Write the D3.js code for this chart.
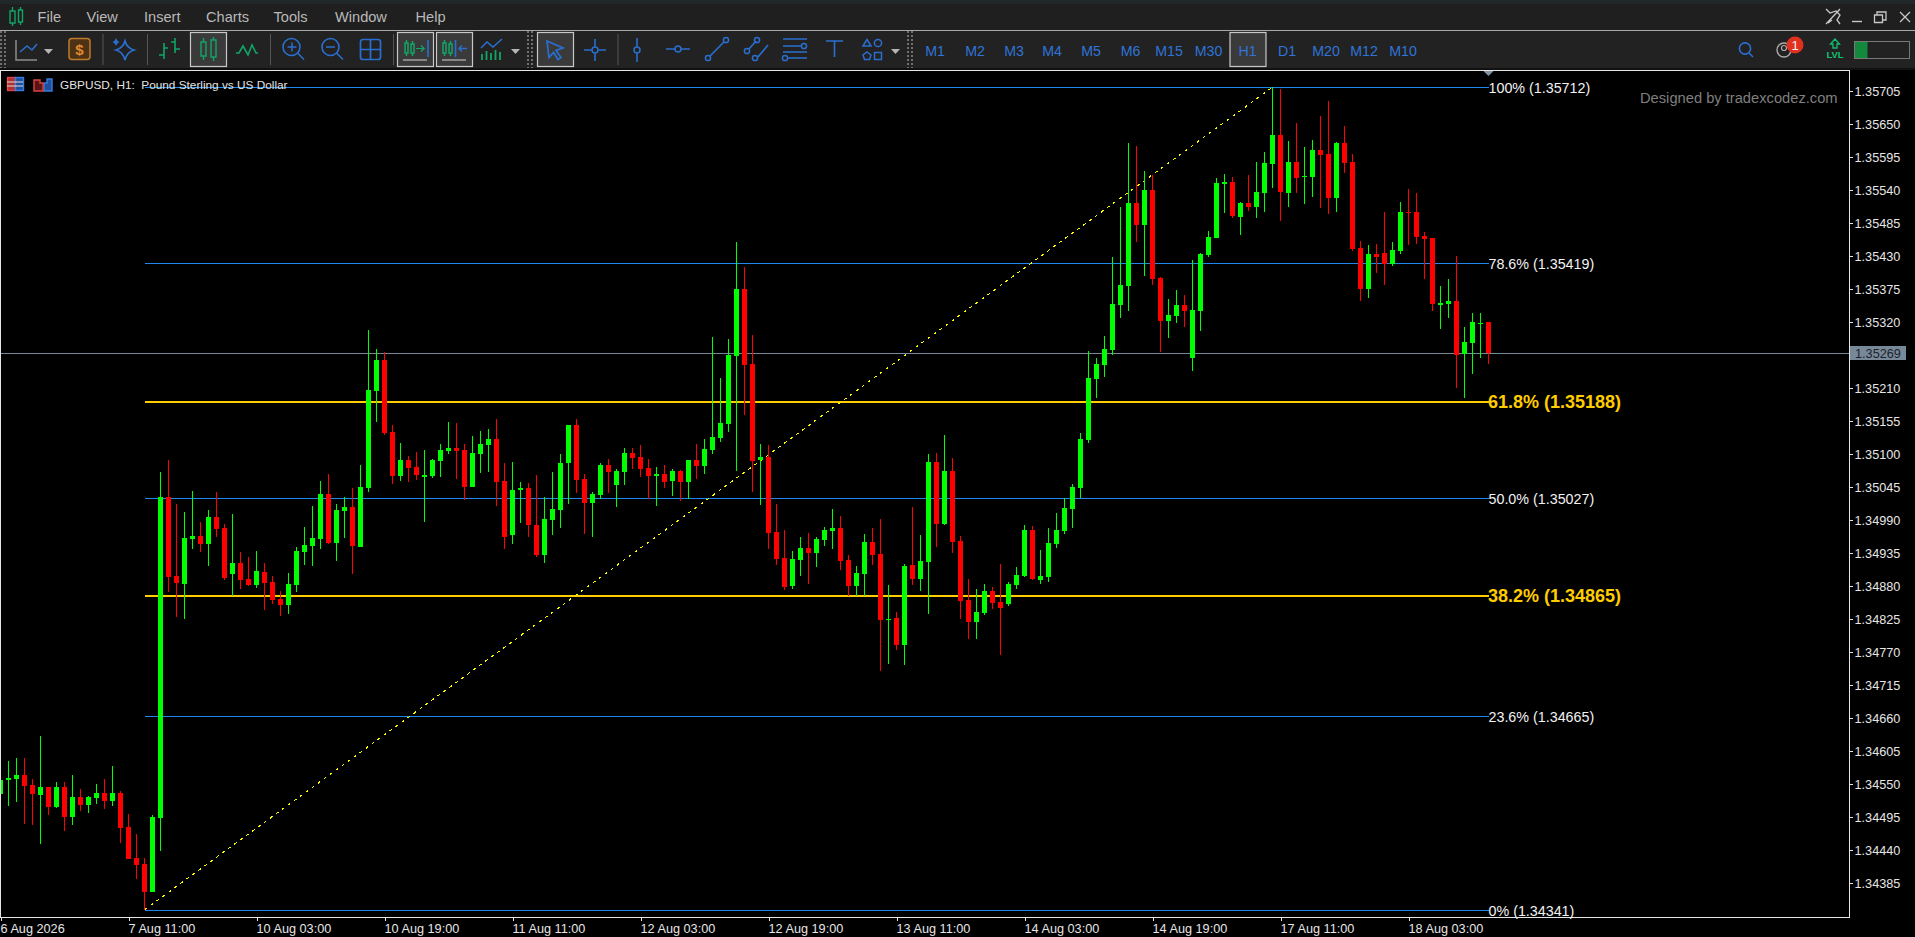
<!DOCTYPE html>
<html><head><meta charset="utf-8">
<script src="https://cdn.jsdelivr.net/npm/d3@7/dist/d3.min.js"></script>
<style>html,body{margin:0;padding:0;background:#000;overflow:hidden}svg{display:block}text{font-family:"Liberation Sans",Arial,sans-serif}</style>
</head><body><div id="c"></div>
<script>
const opens=[1.34534,1.34558,1.34559,1.34566,1.34549,1.34532,1.34546,1.34512,1.34546,1.34496,1.34529,1.34516,1.34527,1.34536,1.34522,1.34536,1.34479,1.34427,1.34417,1.34371,1.34494,1.35029,1.34897,1.34884,1.34959,1.34964,1.34951,1.34996,1.34977,1.34901,1.34919,1.34892,1.34882,1.34904,1.34887,1.34859,1.34849,1.34882,1.34937,1.34947,1.34959,1.35034,1.34952,1.35006,1.35012,1.34946,1.35044,1.35206,1.35257,1.35137,1.35064,1.35091,1.35079,1.35062,1.35064,1.35089,1.35106,1.35111,1.35107,1.35046,1.35101,1.35116,1.35126,1.35056,1.34966,1.35041,1.35044,1.34982,1.34932,1.34991,1.35007,1.35086,1.35149,1.35059,1.35019,1.35032,1.35082,1.35049,1.35071,1.35102,1.35096,1.35077,1.35064,1.35067,1.35056,1.35072,1.35054,1.35091,1.35081,1.35107,1.35127,1.35151,1.35264,1.35376,1.35251,1.35091,1.35095,1.34971,1.34927,1.34881,1.34924,1.34944,1.34936,1.34957,1.34972,1.34977,1.34924,1.34881,1.34901,1.34954,1.34934,1.34824,1.34827,1.34782,1.34916,1.34892,1.34921,1.35087,1.34984,1.35072,1.34956,1.34857,1.34821,1.34836,1.34872,1.34854,1.34851,1.34882,1.34897,1.34974,1.34891,1.34896,1.34951,1.34972,1.35009,1.35044,1.35124,1.35226,1.35249,1.35274,1.35349,1.35381,1.35519,1.35482,1.35541,1.35394,1.35322,1.35331,1.35349,1.35261,1.35339,1.35432,1.35461,1.35551,1.35554,1.35496,1.35519,1.35512,1.35536,1.35584,1.35632,1.35536,1.35587,1.35562,1.35562,1.35607,1.35601,1.35527,1.35619,1.35587,1.35444,1.35376,1.35434,1.35436,1.35417,1.35439,1.35504,1.35504,1.35464,1.35461,1.35349,1.35351,1.35356,1.35267,1.35286,1.35317,1.35321];
const highs=[1.34570,1.34589,1.34594,1.34594,1.34559,1.34631,1.34546,1.34554,1.34554,1.34566,1.34542,1.34531,1.34551,1.34559,1.34581,1.34539,1.34501,1.34467,1.34427,1.34499,1.35071,1.35091,1.35017,1.35004,1.35039,1.34987,1.35007,1.35037,1.34984,1.35001,1.34937,1.34929,1.34939,1.34919,1.34897,1.34872,1.34902,1.34946,1.34979,1.35014,1.35056,1.35067,1.35017,1.35029,1.35044,1.35082,1.35307,1.35276,1.35271,1.35149,1.35119,1.35097,1.35104,1.35107,1.35092,1.35117,1.35154,1.35152,1.35117,1.35131,1.35139,1.35142,1.35159,1.35086,1.35087,1.35054,1.35052,1.35066,1.35029,1.35071,1.35101,1.35149,1.35159,1.35067,1.35037,1.35086,1.35092,1.35076,1.35111,1.35111,1.35116,1.35092,1.35079,1.35082,1.35076,1.35074,1.35091,1.35117,1.35126,1.35296,1.35227,1.35292,1.35454,1.35412,1.35299,1.35117,1.35116,1.35017,1.34974,1.34939,1.34962,1.34969,1.34962,1.34979,1.35009,1.34997,1.34932,1.34914,1.34967,1.34977,1.34992,1.34882,1.34837,1.34917,1.35012,1.34966,1.35101,1.35102,1.35132,1.35094,1.34964,1.34892,1.34876,1.34884,1.34879,1.34917,1.34887,1.34912,1.34982,1.34981,1.34941,1.34977,1.35002,1.35027,1.35051,1.35136,1.35272,1.35261,1.35297,1.35429,1.35512,1.35619,1.35614,1.35572,1.35566,1.35396,1.35359,1.35374,1.35366,1.35424,1.35436,1.35472,1.35561,1.35567,1.35562,1.35521,1.35566,1.35587,1.35604,1.35712,1.35709,1.35622,1.35652,1.35612,1.35624,1.35664,1.35689,1.35621,1.35647,1.35601,1.35456,1.35449,1.35451,1.35504,1.35454,1.35521,1.35542,1.35536,1.35471,1.35461,1.35381,1.35392,1.35431,1.35312,1.35336,1.35336,1.35321];
const lows=[1.34520,1.34514,1.34521,1.34484,1.34482,1.34451,1.34499,1.34511,1.34472,1.34482,1.34506,1.34502,1.34517,1.34509,1.34514,1.34452,1.34426,1.34392,1.34341,1.34371,1.34439,1.34871,1.34829,1.34826,1.34942,1.34937,1.34914,1.34962,1.34891,1.34864,1.34876,1.34881,1.34877,1.34841,1.34851,1.34831,1.34834,1.34871,1.34916,1.34914,1.34942,1.34950,1.34922,1.34960,1.34901,1.34946,1.35037,1.35154,1.35132,1.35051,1.35056,1.35054,1.35057,1.34987,1.35061,1.35062,1.35101,1.35059,1.35024,1.35046,1.35069,1.35071,1.35014,1.34942,1.34951,1.34986,1.34962,1.34929,1.34919,1.34966,1.34977,1.35017,1.35036,1.34967,1.34962,1.35026,1.35036,1.35012,1.35049,1.35076,1.35062,1.35026,1.35014,1.35044,1.35031,1.35022,1.35026,1.35059,1.35067,1.35101,1.35121,1.35137,1.35072,1.35166,1.35037,1.35016,1.34942,1.34916,1.34874,1.34876,1.34897,1.34884,1.34912,1.34947,1.34942,1.34907,1.34864,1.34864,1.34864,1.34916,1.34739,1.34751,1.34774,1.34749,1.34882,1.34872,1.34834,1.34946,1.34982,1.34936,1.34826,1.34792,1.34792,1.34832,1.34842,1.34766,1.34847,1.34876,1.34896,1.34891,1.34884,1.34887,1.34944,1.34967,1.34977,1.35027,1.35119,1.35194,1.35229,1.35266,1.35327,1.35339,1.35454,1.35397,1.35382,1.35271,1.35294,1.35319,1.35312,1.35239,1.35306,1.35429,1.35461,1.35502,1.35494,1.35466,1.35506,1.35494,1.35504,1.35544,1.35489,1.35512,1.35536,1.35517,1.35529,1.35511,1.35501,1.35504,1.35569,1.35439,1.35356,1.35361,1.35402,1.35382,1.35414,1.35434,1.35449,1.35451,1.35392,1.35339,1.35309,1.35327,1.35211,1.35194,1.35234,1.35261,1.35251];
const closes=[1.34558,1.34561,1.34566,1.34547,1.34534,1.34546,1.34512,1.34546,1.34496,1.34529,1.34516,1.34529,1.34536,1.34522,1.34536,1.34477,1.34426,1.34416,1.34371,1.34496,1.35029,1.34896,1.34886,1.34961,1.34964,1.34951,1.34996,1.34976,1.34894,1.34919,1.34891,1.34882,1.34906,1.34886,1.34857,1.34849,1.34884,1.34939,1.34949,1.34961,1.35034,1.34952,1.35007,1.35012,1.34947,1.35046,1.35207,1.35257,1.35136,1.35064,1.35091,1.35077,1.35066,1.35066,1.35091,1.35107,1.35111,1.35106,1.35046,1.35102,1.35117,1.35126,1.35054,1.34962,1.35041,1.35044,1.34982,1.34932,1.34992,1.35009,1.35086,1.35149,1.35057,1.35019,1.35034,1.35082,1.35071,1.35072,1.35102,1.35094,1.35076,1.35064,1.35067,1.35054,1.35072,1.35054,1.35091,1.35081,1.35109,1.35129,1.35152,1.35266,1.35376,1.35249,1.35089,1.35095,1.34969,1.34926,1.34879,1.34926,1.34944,1.34936,1.34959,1.34974,1.34977,1.34922,1.34881,1.34902,1.34954,1.34932,1.34824,1.34826,1.34782,1.34914,1.34892,1.34922,1.35087,1.34984,1.35072,1.34954,1.34856,1.34821,1.34837,1.34872,1.34852,1.34844,1.34884,1.34899,1.34974,1.34892,1.34897,1.34952,1.34974,1.35011,1.35046,1.35126,1.35227,1.35251,1.35276,1.35351,1.35382,1.35519,1.35482,1.35541,1.35392,1.35322,1.35332,1.35349,1.35339,1.35341,1.35434,1.35462,1.35552,1.35554,1.35497,1.35519,1.35512,1.35537,1.35586,1.35632,1.35537,1.35587,1.35561,1.35564,1.35607,1.35599,1.35527,1.35619,1.35586,1.35442,1.35376,1.35434,1.35429,1.35417,1.35441,1.35504,1.35502,1.35462,1.35459,1.35351,1.35352,1.35356,1.35266,1.35287,1.35321,1.35319,1.35269];
const fiboLabels=["100%","78.6%","61.8%","50.0%","38.2%","23.6%","0%"];
const fiboPrices=[1.35712,1.35419,1.35188,1.35027,1.34865,1.34665,1.34341];
const fiboEmphasis=[false,false,true,false,true,false,false];
const priceTicks=[1.35705,1.35650,1.35595,1.35540,1.35485,1.35430,1.35375,1.35320,1.35265,1.35210,1.35155,1.35100,1.35045,1.34990,1.34935,1.34880,1.34825,1.34770,1.34715,1.34660,1.34605,1.34550,1.34495,1.34440,1.34385];
const timeTickIndex=[0,16,32,48,64,80,96,112,128,144,160,176];
const timeTickLabels=["6 Aug 2026","7 Aug 11:00","10 Aug 03:00","10 Aug 19:00","11 Aug 11:00","12 Aug 03:00","12 Aug 19:00","13 Aug 11:00","14 Aug 03:00","14 Aug 19:00","17 Aug 11:00","18 Aug 03:00"];
const currentPrice=1.35269, swingLowIndex=18, swingHighIndex=159, lastIndex=186;
const menuItems=[["File",37.5],["View",86.5],["Insert",144],["Charts",206],["Tools",273.5],["Window",335],["Help",415.5]];
const timeframes=[["M1",935],["M2",975],["M3",1014],["M4",1052],["M5",1091],["M6",1130.5],["M15",1169],["M30",1208.5],["H1",1247.5],["D1",1287],["M20",1326],["M12",1364],["M10",1403]];

const W=1915,H=937,L=1,T=71,R=1849,B=917;
const svg=d3.select("#c").append("svg").attr("width",W).attr("height",H);
const x=d3.scaleLinear().domain([0,186]).range([0.5,1488.5]);
const y=d3.scaleLinear().domain([1.35705,1.34385]).range([91.4,883.4]);
const BLUE="#2a6fd0",GRN="#12a566",GREY="#8c8c8c";

/* ---------- plot ---------- */
svg.append("defs").append("clipPath").attr("id","pc").append("rect").attr("x",0).attr("y",T).attr("width",R).attr("height",B-T);
const plot=svg.append("g").attr("clip-path","url(#pc)");
const crisp=plot.append("g").attr("shape-rendering","crispEdges");
crisp.selectAll(".fib").data(fiboPrices).join("rect")
 .attr("x",x(swingLowIndex)).attr("width",x(lastIndex)-x(swingLowIndex))
 .attr("y",(d,i)=>fiboEmphasis[i]?Math.round(y(d)-0.9):Math.round(y(d)+0.3)).attr("height",(d,i)=>fiboEmphasis[i]?2:1)
 .attr("fill",(d,i)=>fiboEmphasis[i]?"#ffcc00":"#1e88ee");
crisp.append("rect").attr("x",0).attr("width",R).attr("y",Math.round(y(currentPrice))).attr("height",1).attr("fill","#778899");
plot.append("line").attr("x1",x(swingLowIndex)).attr("y1",y(lows[swingLowIndex]))
 .attr("x2",x(swingHighIndex)).attr("y2",y(highs[swingHighIndex]))
 .attr("stroke","#ffff00").attr("stroke-width",1.1).attr("shape-rendering","crispEdges").attr("stroke-dasharray","3 4.4");
const idx=d3.range(opens.length);
const cg=plot.append("g").attr("shape-rendering","crispEdges");
const col=i=>closes[i]>=opens[i]?"#00ff00":"#ff0000";
cg.selectAll(".w").data(idx).join("rect").attr("x",i=>x(i)-0.5).attr("width",1)
 .attr("y",i=>y(highs[i])).attr("height",i=>y(lows[i])-y(highs[i])).attr("fill",col);
cg.selectAll(".b").data(idx).join("rect").attr("x",i=>x(i)-2.5).attr("width",5)
 .attr("y",i=>y(Math.max(opens[i],closes[i])))
 .attr("height",i=>Math.max(1,Math.abs(y(opens[i])-y(closes[i])))).attr("fill",col);

/* ---------- frame & axes ---------- */
const frame=svg.append("g").attr("shape-rendering","crispEdges").attr("fill","#e6e6e6");
frame.append("rect").attr("x",0).attr("y",70).attr("width",R+1).attr("height",1);
frame.append("rect").attr("x",0).attr("y",70).attr("width",1).attr("height",B-69);
frame.append("rect").attr("x",0).attr("y",B).attr("width",R+1).attr("height",1);
frame.append("rect").attr("x",R).attr("y",70).attr("width",1).attr("height",B-69);

const axR=svg.append("g").attr("transform",`translate(${R},0)`)
 .call(d3.axisRight(y).tickValues(priceTicks).tickSize(4).tickPadding(1.5).tickFormat(d3.format(".5f")));
axR.select(".domain").remove();
axR.selectAll("line").attr("stroke","#e6e6e6").attr("shape-rendering","crispEdges");
axR.selectAll("text").attr("fill","#e6e6e6").style("font-size","12.7px").style("font-family",'"Liberation Sans"');
axR.selectAll(".tick").filter(d=>Math.abs(d-1.35265)<1e-7).remove();

const axB=svg.append("g").attr("transform",`translate(0,${B})`)
 .call(d3.axisBottom(x).tickValues(timeTickIndex).tickSize(4).tickFormat((d,i)=>timeTickLabels[i]));
axB.select(".domain").remove();
axB.selectAll("line").attr("stroke","#e6e6e6").attr("shape-rendering","crispEdges");
axB.selectAll("text").attr("fill","#e6e6e6").attr("text-anchor","start").attr("x",-0.5).attr("y",7).attr("dy","0.71em")
 .style("font-size","12.7px").style("font-family",'"Liberation Sans"');

/* current price tag */
svg.append("rect").attr("x",R+1).attr("y",y(currentPrice)-6.6).attr("width",56).attr("height",13.5).attr("fill","#778899").attr("shape-rendering","crispEdges");
svg.append("text").attr("x",R+6).attr("y",y(currentPrice)).attr("dy","0.36em").attr("fill","#1c2228").style("font-size","12.7px").text(d3.format(".5f")(currentPrice));

/* fibo labels */
svg.append("path").attr("d",`M${x(lastIndex)-5},71h10l-5,5z`).attr("fill","#8494a4");
svg.selectAll(".fl").data(fiboPrices).join("text").attr("x",(d,i)=>x(lastIndex)+(fiboEmphasis[i]?-0.5:0)).attr("y",(d,i)=>y(d)+(fiboEmphasis[i]?0:1)).attr("dy","0.36em")
 .attr("fill",(d,i)=>fiboEmphasis[i]?"#ffcc00":"#f2f2f2")
 .style("font-weight",(d,i)=>fiboEmphasis[i]?"700":"400")
 .style("font-size",(d,i)=>fiboEmphasis[i]?"18px":"14.3px")
 .text((d,i)=>`${fiboLabels[i]} (${d3.format(".5f")(d)})`);

svg.append("text").attr("x",1640).attr("y",98).attr("dy","0.36em").attr("fill","#7f7f7f").style("font-size","14.7px").text("Designed by tradexcodez.com");
svg.append("text").attr("x",60).attr("y",85).attr("dy","0.36em").attr("fill","#e4e4e4").style("font-size","11.8px").attr("xml:space","preserve").text("GBPUSD, H1:  Pound Sterling vs US Dollar");
const ti=svg.append("g").attr("fill","none").attr("stroke-width",1.4);
ti.append("rect").attr("x",7.5).attr("y",77.5).attr("width",8).attr("height",13).attr("fill","#b03030").attr("stroke","#d44");
ti.append("rect").attr("x",15.5).attr("y",77.5).attr("width",8).attr("height",13).attr("fill","#1d4f9c").attr("stroke","#3a7be0");
ti.append("path").attr("d","M7 82h16M7 86h16").attr("stroke","#ddd").attr("stroke-width",1);
ti.append("path").attr("d","M44 91v-8h3v-4h5v12z").attr("stroke","#3a7be0").attr("fill","#1d4f9c");
ti.append("path").attr("d","M34 80h6v3h3v8h-9z").attr("stroke","#d44").attr("fill","#5a1414");

/* ---------- chrome ---------- */
const ch=svg.append("g");
ch.append("rect").attr("width",W).attr("height",30).attr("fill","#1f1f1f");
ch.append("rect").attr("width",W).attr("height",4).attr("fill","#20282a");
ch.append("rect").attr("y",30).attr("width",W).attr("height",1).attr("fill","#a8a8a8");
ch.append("rect").attr("y",31).attr("width",W).attr("height",37).attr("fill","#222222");
ch.append("rect").attr("y",68).attr("width",W).attr("height",2).attr("fill","#111");
ch.selectAll(".m").data(menuItems).join("text").attr("x",d=>d[1]).attr("y",17).attr("dy","0.36em").attr("fill","#b9b9b9").style("font-size","14.6px").text(d=>d[0]);
function btn(x0,w){ch.append("rect").attr("x",x0+.5).attr("y",32.5).attr("width",w).attr("height",34).attr("fill","#3a3a3a").attr("stroke","#c8c8c8").attr("stroke-width",1.2);}
[190,397,436,537,1229.5].forEach(v=>btn(v,36));
ch.selectAll(".tf").data(timeframes).join("text").attr("x",d=>d[1]).attr("y",50.5).attr("dy","0.36em").attr("text-anchor","middle").attr("fill","#2f74d8").style("font-size","14.2px").text(d=>d[0]);
const P=(d,s,w,f)=>ch.append("path").attr("d",d).attr("stroke",s||"none").attr("stroke-width",w||1.6).attr("fill",f||"none");
/* separators */
[102.5,147,270,393,617.5].forEach(v=>ch.append("rect").attr("x",v).attr("y",34).attr("width",1).attr("height",31).attr("fill","#555"));
[1,5,528,532,908,912].forEach(v=>ch.append("line").attr("x1",v).attr("x2",v).attr("y1",31).attr("y2",68).attr("stroke","#bdbdbd").attr("stroke-dasharray","2 2"));
/* app icon */
P("M10 11h5v12h-5zM12.5 7v4M12.5 23v3M18.5 10h4v12h-4zM20.5 7v3M20.5 22v3",GRN,1.4);
/* line chart icon */
P("M16 40v20h21",GREY,1.5);P("M20 52l7-6 5 4 5-6",BLUE,1.6);
P("M44 49h9l-4.5 5z",null,0,"#b5b5b5");
/* dollar */
ch.append("rect").attr("x",69).attr("y",38.5).attr("width",21).attr("height",21).attr("rx",3).attr("fill","#4d3216").attr("stroke","#c07a2c").attr("stroke-width",1.5);
ch.append("text").attr("x",79.5).attr("y",49.5).attr("dy","0.36em").attr("text-anchor","middle").attr("fill","#e08a2c").style("font-size","15px").style("font-weight","700").text("$");
/* sparkle */
P("M125 41q2 7 9 9q-7 2-9 10q-2-8-9-10q7-2 9-9z",BLUE,1.7);P("M116 38q1 3 3.5 4q-2.5 1-3.5 4q-1-3-3.5-4q2.5-1 3.5-4z",null,0,BLUE);
/* bars */
P("M164 43v16M164 48h4M164 55h-5M175 38v15M175 42h-4M175 49h5",GRN,1.6);
/* candles */
P("M201 42h5v14h-5zM203.5 38v4M203.5 56v4M211 40h5v17h-5zM213.5 37v3M213.5 57v4",GRN,1.4);
/* line */
P("M236 53h3l4-7 5 9 4-10 4 8h2",GRN,1.6);
/* zoom + - */
P("M292 42.5v9M287.5 47h9",BLUE,1.5);
[[291.5,47],[330.5,47]].forEach(c=>{ch.append("circle").attr("cx",c[0]).attr("cy",c[1]).attr("r",8.5).attr("fill","none").attr("stroke",BLUE).attr("stroke-width",1.6);P(`M${c[0]+6} ${c[1]+6}l6.5 6.5`,BLUE,1.6);});
P("M326 47h9",BLUE,1.5);
/* grid */
ch.append("rect").attr("x",360.5).attr("y",39.5).attr("width",20).attr("height",20).attr("rx",2.5).attr("fill","none").attr("stroke",BLUE).attr("stroke-width",1.7);
P("M370.5 39.5v20M360.5 49.5h20",BLUE,1.7);
/* scroll buttons */
P("M405 43h3v10h-3zM406.5 40v3M406.5 53v3M411 44h3v9h-3zM412.5 41v3M412.5 53v3",GRN,1.5);P("M416 48.5h8l-3-3M424 48.5l-3 3",GRN,1.2);P("M428 40v17",BLUE,1.6);P("M403 60h24","#aaa",1.4);
P("M443 43h3v10h-3zM444.5 40v3M444.5 53v3M449 44h3v9h-3zM450.5 41v3M450.5 53v3",GRN,1.5);P("M467 48.5h-8l3-3M459 48.5l3 3",BLUE,1.3);P("M455.5 40v17",BLUE,1.6);P("M442 60h24","#aaa",1.4);
/* indicators */
P("M481 48l6-6 6 5 9-8",BLUE,1.5);P("M482 60v-6M486.5 60v-9M491 60v-7M495.5 60v-10M500 60v-8",GRN,1.8);
P("M511 49h9l-4.5 5z",null,0,"#b5b5b5");
/* cursor */
P("M547 41l16 7-7 2.5 5 7-3 2-4.5-7-4.5 5z",BLUE,1.7);
/* crosshair */
P("M584 50h7.5M598.5 50h7.5M595 39v7.5M595 53.5v7.5",BLUE,1.6);ch.append("circle").attr("cx",595).attr("cy",50).attr("r",3).attr("fill","none").attr("stroke",BLUE).attr("stroke-width",1.5);
/* objects */
P("M637 38v8.5M637 53.5v8.5",BLUE,1.6);ch.append("circle").attr("cx",637).attr("cy",50).attr("r",3).attr("fill","none").attr("stroke",BLUE).attr("stroke-width",1.5);
P("M666 49h9M681 49h9",BLUE,1.6);ch.append("circle").attr("cx",678).attr("cy",49).attr("r",3).attr("fill","none").attr("stroke",BLUE).attr("stroke-width",1.5);
P("M710 56l14-14",BLUE,1.6);[[708,58],[726,40]].forEach(c=>ch.append("circle").attr("cx",c[0]).attr("cy",c[1]).attr("r",2.6).attr("fill","none").attr("stroke",BLUE).attr("stroke-width",1.5));
P("M749 49l7-8M758 57l10-12",BLUE,1.6);[[747,51],[757,40],[755,58]].forEach(c=>ch.append("circle").attr("cx",c[0]).attr("cy",c[1]).attr("r",2.6).attr("fill","none").attr("stroke",BLUE).attr("stroke-width",1.5));
P("M783 39h24M783 46h19M783 52h24M787 58h20",BLUE,1.6);[[804,46],[785,58]].forEach(c=>ch.append("circle").attr("cx",c[0]).attr("cy",c[1]).attr("r",2.6).attr("fill","none").attr("stroke",BLUE).attr("stroke-width",1.5));
P("M826 41h17M834.5 41v16",BLUE,1.6);
P("M863 46l4-6.5 4 6.5z",BLUE,1.5);ch.append("circle").attr("cx",878).attr("cy",43).attr("r",3.6).attr("fill","none").attr("stroke",BLUE).attr("stroke-width",1.5);
P("M867 52l4 3-1.5 4.5h-5l-1.5-4.5z",BLUE,1.5);ch.append("rect").attr("x",874.5).attr("y",52.5).attr("width",7).attr("height",7).attr("fill","none").attr("stroke",BLUE).attr("stroke-width",1.5);
P("M891 49h9l-4.5 5z",null,0,"#b5b5b5");
/* right side */
ch.append("circle").attr("cx",1745).attr("cy",48.5).attr("r",5.6).attr("fill","none").attr("stroke",BLUE).attr("stroke-width",1.6);P("M1749 53l4 4",BLUE,1.6);
ch.append("circle").attr("cx",1784).attr("cy",50).attr("r",7).attr("fill","none").attr("stroke","#aaa").attr("stroke-width",1.4);
ch.append("circle").attr("cx",1784).attr("cy",48).attr("r",2.5).attr("fill","none").attr("stroke","#aaa").attr("stroke-width",1.2);
ch.append("circle").attr("cx",1795).attr("cy",45).attr("r",8.5).attr("fill","#e0301e");
ch.append("text").attr("x",1795).attr("y",45).attr("dy","0.36em").attr("text-anchor","middle").attr("fill","#eee").style("font-size","13px").text("1");
P("M1835 39l-4.5 5h2.5v4h4v-4h2.5z","#12c070",1.3);
ch.append("text").attr("x",1835).attr("y",55).attr("dy","0.36em").attr("text-anchor","middle").attr("fill","#12c070").style("font-size","9.5px").style("font-weight","700").text("LVL");
ch.append("rect").attr("x",1854.5).attr("y",41.5).attr("width",55).attr("height",17).attr("fill","#222").attr("stroke","#777");
ch.append("rect").attr("x",1855).attr("y",42).attr("width",12.5).attr("height",16).attr("fill","#14883c");
P("M1826 9l4 4 6-2 4 4-3 5 3 4M1840 9l-14 15M1832 20l-4 3",  "#c8c8c8",1.3);
P("M1852 21.5h10","#c8c8c8",1.4);
P("M1877 15v-3h9v8h-3M1874.5 15h8v7.5h-8z","#c8c8c8",1.3);
P("M1900 12l10 10M1910 12l-10 10","#c8c8c8",1.3);
</script></body></html>
